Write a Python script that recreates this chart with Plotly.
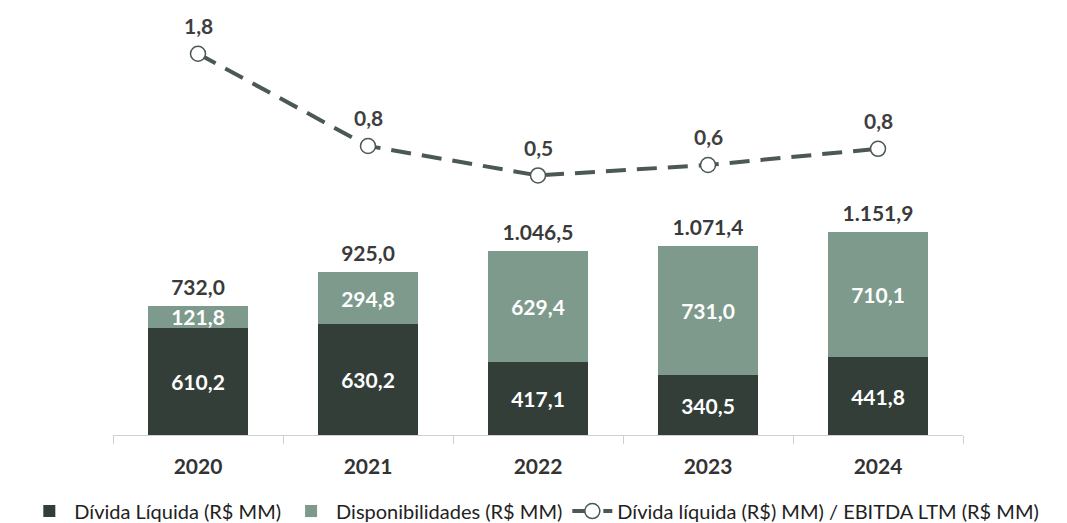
import plotly.graph_objects as go

years = ["2020", "2021", "2022", "2023", "2024"]
divida_liquida = [610.2, 630.2, 417.1, 340.5, 441.8]
disponibilidades = [121.8, 294.8, 629.4, 731.0, 710.1]
totais = [732.0, 925.0, 1046.5, 1071.4, 1151.9]
alavancagem = [1.8, 0.83, 0.52, 0.63, 0.80]
alavancagem_txt = ["1,8", "0,8", "0,5", "0,6", "0,8"]

def fmt(v):
    s = f"{v:,.1f}"
    return s.replace(",", "X").replace(".", ",").replace("X", ".")

DARK = "#333e39"
LIGHT = "#7e9a8c"
LINE = "#4b5952"
FONT = "Lato"

W, H = 1059, 515
PL, PR = 105, 955  # plot x range (figure px)

fig = go.Figure()
fig.add_trace(go.Bar(
    x=years, y=divida_liquida, name="Dívida Líquida (R$ MM)",
    marker=dict(color=DARK, line=dict(width=0)),
    text=[fmt(v) for v in divida_liquida], textposition="inside",
    insidetextanchor="middle", constraintext="none",
    textfont=dict(color="white", size=21, family=FONT, weight="bold"),
))
fig.add_trace(go.Bar(
    x=years, y=disponibilidades, name="Disponibilidades (R$ MM)",
    marker=dict(color=LIGHT, line=dict(width=0)),
    text=[fmt(v) for v in disponibilidades], textposition="inside",
    insidetextanchor="middle", constraintext="none",
    textfont=dict(color="white", size=21, family=FONT, weight="bold"),
))
fig.add_trace(go.Scatter(
    x=years, y=totais, mode="markers+text", showlegend=False,
    marker=dict(size=8, opacity=0),
    text=[fmt(v) for v in totais], textposition="top center",
    textfont=dict(color="#3a3a3a", size=21, family=FONT, weight="bold"),
    hoverinfo="skip",
))
fig.add_trace(go.Scatter(
    x=years, y=alavancagem, yaxis="y2", mode="lines+markers",
    name="Dívida líquida (R$) MM) / EBITDA LTM (R$ MM)",
    line=dict(color=LINE, width=4, dash="20px,11px"),
    marker=dict(symbol="circle", size=15, color="white",
                line=dict(color=LINE, width=1.5)),
))

annotations = [
    dict(x=i, y=v, xref="x", yref="y2", text=t, showarrow=False,
         yshift=28, font=dict(color="#3f3f3f", size=21, family=FONT,
                               weight="bold"))
    for i, (v, t) in enumerate(zip(alavancagem, alavancagem_txt))
]

fig.update_layout(
    width=W, height=H,
    barmode="stack", bargap=0.41,
    uniformtext=dict(minsize=20, mode="show"),
    plot_bgcolor="white", paper_bgcolor="white",
    margin=dict(l=0, r=0, t=2, b=88, pad=0, autoexpand=False),
    font=dict(family=FONT, color="#222222"),
    annotations=annotations,
    xaxis=dict(
        domain=[PL / W, PR / W],
        type="category", categoryorder="array", categoryarray=years,
        range=[-0.5, len(years) - 0.5],
        showline=True, linecolor="#d0d0d0", linewidth=1,
        ticks="outside", tickson="boundaries", ticklen=8, tickcolor="#d0d0d0",
        ticklabelstandoff=13,
        tickfont=dict(size=21, family=FONT, color="#333333", weight="bold"),
        showgrid=False, automargin=False,
    ),
    yaxis=dict(range=[0, 2415], visible=False, showgrid=False),
    yaxis2=dict(range=[-2.21, 2.26], overlaying="y", visible=False,
                showgrid=False),
    legend=dict(orientation="h", x=0.497, xanchor="center", y=-0.179,
                yanchor="middle",
                font=dict(size=20, family=FONT, color="#222222"),
                traceorder="normal", itemwidth=40),
    showlegend=True,
)

fig.write_html("out.html")
